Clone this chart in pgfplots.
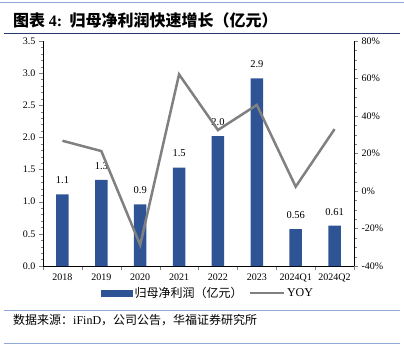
\documentclass[border=0pt]{standalone}
\usepackage{pgfplots}
\pgfplotsset{compat=1.18}
\usepackage{fontspec}
\setmainfont{Liberation Serif}
\newfontfamily\cjk{Noto Sans CJK SC}
\definecolor{barblue}{RGB}{47,84,150}
\definecolor{linegray}{RGB}{128,128,128}
\definecolor{rulelight}{RGB}{143,168,214}
\definecolor{ruledark}{RGB}{40,60,110}
\begin{document}
\begin{tikzpicture}
\useasboundingbox (0pt,0pt) rectangle (404pt,362pt);
\draw[rulelight, line width=1pt] (0pt,359pt) -- (404pt,359pt);
\draw[ruledark, line width=0.8pt] (4pt,329pt) -- (400pt,329pt);
\node[anchor=west, inner sep=0] at (13pt,342pt) {\fontsize{16}{18}\selectfont\cjk\bfseries 图表 {\rmfamily 4:}\ \ 归母净利润快速增长（亿元）};
\draw[rulelight, line width=0.8pt] (4pt,52pt) -- (400pt,52pt);
\draw[rulelight, line width=0.8pt] (4pt,19pt) -- (400pt,19pt);
\node[anchor=west, inner sep=0] at (13pt,42pt) {\fontsize{12}{14}\selectfont\cjk 数据来源：{\rmfamily iFinD}，公司公告，华福证券研究所};

\begin{axis}[
  at={(43pt,96pt)}, anchor=south west, scale only axis,
  width=311pt, height=225pt,
  xmin=-0.5, xmax=7.5, ymin=0, ymax=3.5,
  axis x line*=bottom, axis y line*=left,
  xtick={-0.5,0.5,1.5,2.5,3.5,4.5,5.5,6.5,7.5},
  x tick label as interval,
  xticklabels={2018,2019,2020,2021,2022,2023,2024Q1,2024Q2},
  ytick={0,0.5,1,1.5,2,2.5,3,3.5}, minor y tick num=4,
  yticklabel style={/pgf/number format/.cd, fixed, fixed zerofill, precision=1},
  /pgf/number format/assume math mode=true,
  tick align=outside, major tick length=4pt, minor tick length=2.5pt,
  ticklabel style={font=\fontsize{10}{12}\selectfont},
  ybar, bar width=0.32,
  nodes near coords, point meta=explicit symbolic,
  every node near coord/.append style={font=\fontsize{10.5}{12}\selectfont, yshift=7pt},
  legend style={at={(0.53,-0.12)}, anchor=center, draw=none, fill=none,
    legend columns=2, font=\fontsize{12}{14}\selectfont,
    /tikz/every even column/.append style={column sep=4pt}},
]
\addplot[fill=barblue, draw=none,
  legend image code/.code={\fill[barblue] (0pt,-3.5pt) rectangle (32pt,3.5pt);}]
  table[x=x, y=y, meta=lab] {
x y lab
0 1.115 1.1
1 1.34 1.3
2 0.96 0.9
3 1.53 1.5
4 2.02 2.0
5 2.92 2.9
6 0.575 0.56
7 0.627 0.61
};
\addlegendentry{\cjk 归母净利润（亿元）}
\addlegendimage{legend image code/.code={\draw[linegray, line width=2.5pt] (0pt,0pt) -- (34pt,0pt);}}
\addlegendentry{YOY}
\end{axis}

\begin{axis}[
  at={(43pt,96pt)}, anchor=south west, scale only axis,
  width=311pt, height=225pt,
  xmin=-0.5, xmax=7.5, ymin=-40, ymax=80,
  axis x line=none, axis y line*=right,
  ytick={-40,-20,0,20,40,60,80}, minor y tick num=3,
  yticklabel={\pgfmathprintnumber{\tick}\%},
  /pgf/number format/assume math mode=true,
  tick align=outside, major tick length=4pt, minor tick length=2.5pt,
  ticklabel style={font=\fontsize{10}{12}\selectfont},
]
\addplot[linegray, line width=2.5pt] coordinates {
(0,26.8) (1,21.3) (2,-28.8) (3,62.2) (4,32.5) (5,45.9) (6,2.3) (7,33)
};
\end{axis}
\end{tikzpicture}
\end{document}
